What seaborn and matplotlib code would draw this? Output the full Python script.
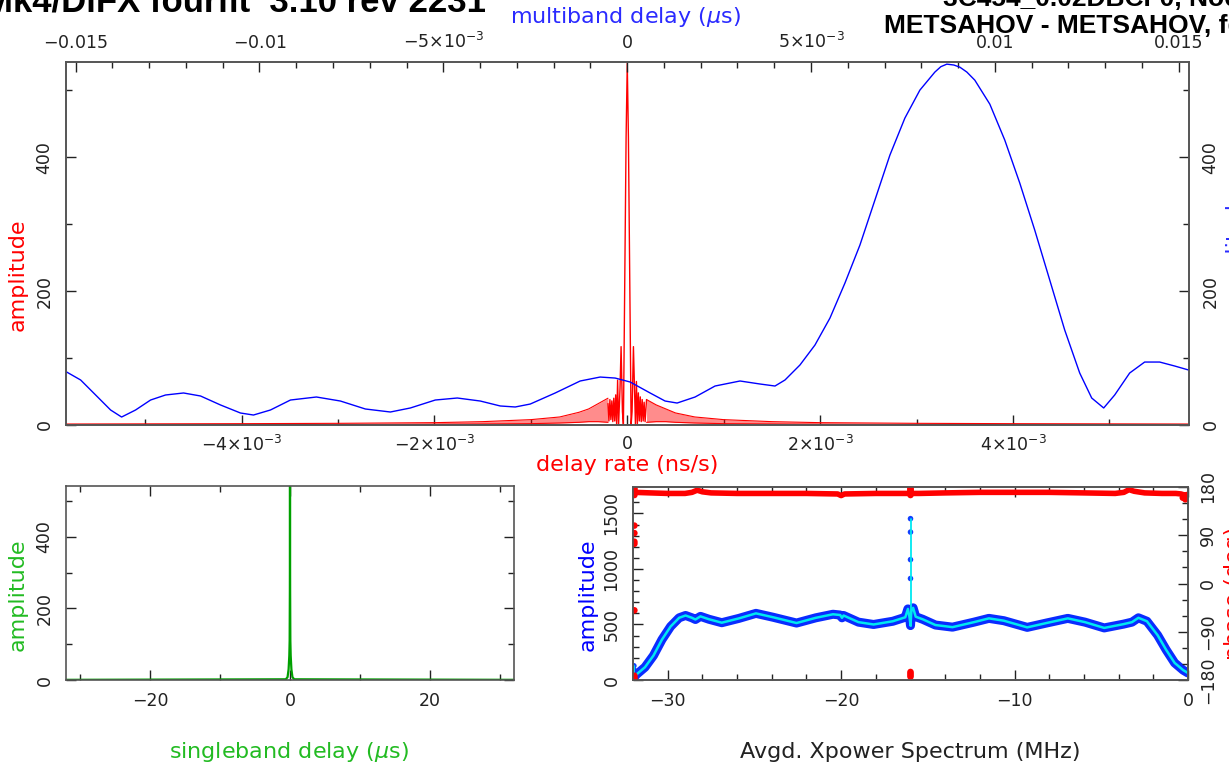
import numpy as np
import pandas as pd
import matplotlib
matplotlib.use("Agg")
import matplotlib.pyplot as plt
from matplotlib.ticker import MultipleLocator, FixedLocator, FixedFormatter, FuncFormatter
import seaborn as sns

sns.set_theme(style="ticks")
plt.rcParams['font.family'] = ['DejaVu Sans']
plt.rcParams['mathtext.fontset'] = 'dejavusans'

# ---------------- data ----------------
# Top panel, red: delay-rate function (x in ns/s)
rate_center_x = [-0.20e-3, -0.19e-3, -0.18e-3, -0.17e-3, -0.16e-3, -0.15e-3, -0.14e-3, -0.13e-3,
                 -0.12e-3, -0.11e-3, -0.10e-3, -0.09e-3, -0.075e-3, -0.064e-3, -0.05e-3, -0.04e-3,
                 -0.025e-3, -0.012e-3, 0.0, 0.012e-3, 0.025e-3, 0.04e-3, 0.05e-3, 0.064e-3,
                 0.075e-3, 0.085e-3, 0.095e-3, 0.105e-3, 0.115e-3, 0.125e-3, 0.135e-3, 0.145e-3,
                 0.155e-3, 0.165e-3, 0.175e-3, 0.185e-3, 0.20e-3]
rate_center_y = [32, 6, 38, 8, 36, 5, 40, 6, 45, 0, 67, 0, 55, 117, 20, 0,
                 230, 430, 540, 430, 230, 0, 20, 117,
                 55, 0, 65, 2, 48, 6, 42, 5,
                 38, 6, 34, 5, 38]
rate_wing_left_x = [-5.82e-3, -4.0e-3, -3.0e-3, -2.0e-3, -1.5e-3, -1.0e-3, -0.7e-3, -0.5e-3,
                    -0.4e-3, -0.3e-3, -0.2e-3]
rate_wing_left_hi = [1.5, 2, 2.5, 3.5, 5, 8, 12, 19, 24, 32, 40]
rate_wing_left_lo = [0, 0.5, 0.5, 1, 1.5, 2, 3, 4, 5, 5, 4]
rate_wing_right_x = [0.2e-3, 0.3e-3, 0.4e-3, 0.5e-3, 0.7e-3, 1.0e-3, 1.5e-3, 2.0e-3, 3.0e-3,
                     4.0e-3, 5.82e-3]
rate_wing_right_hi = [38, 30, 24, 18, 12, 8, 5, 3.5, 2.5, 2, 1.5]
rate_wing_right_lo = [4, 5, 5, 4, 3, 2, 1.5, 1, 0.5, 0.5, 0]

# Top panel, blue: multiband delay function (x in microseconds)
mbd_x = [-0.015242, -0.014862, -0.014454, -0.014047, -0.013748, -0.013368, -0.012960, -0.012553,
         -0.012063, -0.011601, -0.011058, -0.010515, -0.010162, -0.009700, -0.009156, -0.008450,
         -0.007798, -0.007119, -0.006439, -0.005896, -0.005217, -0.004619, -0.003994, -0.003451,
         -0.003043, -0.002635, -0.001956, -0.001277, -0.000734, -0.000326, 0.000082, 0.000625,
         0.001032, 0.001359, 0.001848, 0.002391, 0.003070, 0.003614, 0.004021, 0.004293,
         0.004700, 0.005108, 0.005516, 0.005923, 0.006331, 0.006738, 0.007146, 0.007553,
         0.007961, 0.008368, 0.008531, 0.008694, 0.008885, 0.009048, 0.009238, 0.009455,
         0.009863, 0.010270, 0.010678,
         0.011085, 0.011493, 0.011900, 0.012308, 0.012634, 0.012960, 0.013259, 0.013666,
         0.014074, 0.014482, 0.014889, 0.015270]
mbd_amp = [79.1, 67.2, 44.8, 22.4, 11.9, 22.4, 37.3, 44.8,
           47.8, 43.3, 29.9, 17.9, 14.9, 22.4, 37.3, 41.8,
           35.8, 23.9, 19.4, 25.4, 37.3, 40.3, 35.8, 28.4,
           26.9, 31.3, 47.8, 65.7, 71.6, 70.1, 64.2, 47.8,
           35.8, 32.8, 41.8, 58.2, 65.7, 61.2, 58.2, 67.2,
           89.6, 119.4, 159.7, 211.9, 268.7, 335.8, 403.0, 458.2,
           500.0, 526.9, 535.0, 538.8, 537.5, 534.3, 527.0, 514.9,
           479.1, 425.4, 361.2,
           291.0, 216.4, 141.8, 77.6, 40.3, 25.4, 44.8, 77.6,
           94.0, 94.0, 88.1, 82.1]

# Lower-left, green: singleband delay function (x in microseconds)
sbd_x = [-32, -0.6, -0.35, -0.2, -0.1, -0.05, -0.02, 0.0, 0.02, 0.05, 0.1, 0.2, 0.35, 0.6, 32]
sbd_amp = [0.5, 2, 8, 30, 68, 110, 250, 544, 250, 110, 68, 30, 8, 2, 0.5]

# Lower-right: averaged cross-power spectrum (MHz)
spec_freq = [-32.0, -31.8, -31.31, -30.82, -30.33, -29.83, -29.34, -28.97, -28.6, -28.4, -28.11,
             -27.62, -26.88, -25.89, -24.91, -23.92, -22.57, -21.46, -20.47, -20.05, -19.95,
             -19.86, -19.0, -18.13, -17.02, -16.5, -16.3, -16.15, -16.05, -16.0, -15.95, -15.85,
             -15.7, -15.3, -14.56, -13.58, -12.34, -11.48, -10.62, -9.27, -8.16, -6.93, -5.94,
             -4.83, -3.72, -3.23, -2.86, -2.37, -1.75, -1.26, -0.77, -0.28, 0.0]
spec_amp = [10, 50, 115, 220, 364, 482, 560, 581, 560, 545, 573,
            547, 516, 555, 600, 565, 513, 560, 592, 585, 560,
            581, 521, 500, 529, 555, 565, 640, 560, 490, 620, 650,
            570, 547, 495, 476, 521, 555, 534, 474, 513, 555, 521,
            469, 503, 521, 560, 529, 403, 272, 154, 89, 63]
spike_freq = [-16.0, -16.0, -16.0, -16.0, -16.0]
spike_amp = [1453, 1332, 1084, 914, 490]
edge_freq = [-31.95, -31.95, -31.95, -31.95]
edge_amp = [128, 90, 60, 30]

phase_freq = [-31.9, -31.0, -30.0, -29.0, -28.6, -28.3, -28.0, -27.5, -26.0, -24.0, -22.0,
              -20.2, -20.0, -19.8, -18.0, -16.5, -15.5, -14.0, -12.0, -10.0, -8.0, -6.0,
              -4.2, -3.7, -3.4, -3.1, -2.5, -1.5, -0.7, -0.4, -0.2, -0.05]
phase_deg = [170, 169, 168, 168, 170, 174, 171, 169, 168, 168, 168,
             167, 164, 167, 168, 168, 168, 169, 170, 170, 170, 169,
             168, 170, 175, 172, 169, 168, 168, 167, 165, 166]
phase_out_freq = [-31.92, -31.92, -31.92, -31.92, -31.92, -31.92, -31.92, -31.92, -31.92,
                  -31.92, -31.92, -31.92,
                  -16.0, -16.0, -16.0, -16.0, -16.0, -16.0, -16.0, -16.0, -16.0, -16.0,
                  -0.3, -0.15, -0.05]
phase_out_deg = [178, 175, 172, 165, 108, 94, 78, 74, -50, -172, -176, -179,
                 178, 176, 174, 172, 168, 165, -165, -168, -171, -174,
                 160, 157, 163]

# tick labels
rate_ticks = [-4e-3, -2e-3, 0, 2e-3, 4e-3]
rate_labels = [r"$-4{\times}10^{-3}$", r"$-2{\times}10^{-3}$", "0",
               r"$2{\times}10^{-3}$", r"$4{\times}10^{-3}$"]
mbd_ticks = [-0.015, -0.01, -0.005, 0, 0.005, 0.01, 0.015]
mbd_labels = [r"$-$0.015", r"$-$0.01", r"$-5{\times}10^{-3}$", "0",
              r"$5{\times}10^{-3}$", "0.01", "0.015"]

# ---------------- figure ----------------
W, H = 1229, 773
fig = plt.figure(figsize=(W / 100, H / 100), dpi=100)
fig.patch.set_facecolor("white")


def rect(x0, y0, x1, y1):
    return [x0 / W, 1 - y1 / H, (x1 - x0) / W, (y1 - y0) / H]


def fx(x):
    return x / W


def fy(y):
    return 1 - y / H


RED = "#ff0000"
BLUE = "#0000ff"
GREEN_LINE = "#00a000"
GREEN_TXT = "#22bb22"
CYAN = "#00e8f0"
SPINE = "#555555"
TICKFS = 12.5
LABFS = 16
minus_fmt = FuncFormatter(lambda v, p: ("\u2212%d" % abs(v)) if v < 0 else "%d" % v)


def style(ax):
    ax.set_facecolor("white")
    for s in ax.spines.values():
        s.set_color(SPINE)
        s.set_linewidth(1.2)
        s.set_visible(True)
    ax.tick_params(which="both", direction="in", colors="#222222", labelcolor="#222222",
                   labelsize=TICKFS, width=1.0)
    ax.tick_params(which="major", length=7)
    ax.tick_params(which="minor", length=4)
    ax.grid(False)


def rotate_labels(ax, left=True, right=False):
    for t in ax.yaxis.get_major_ticks():
        if left:
            t.label1.set_rotation(90)
            t.label1.set_va("center")
        if right:
            t.label2.set_rotation(90)
            t.label2.set_va("center")


# ---- top panel ----
ax1 = fig.add_axes(rect(66, 62, 1189, 425))
style(ax1)
wl = pd.DataFrame({"x": rate_wing_left_x, "hi": rate_wing_left_hi, "lo": rate_wing_left_lo})
wr = pd.DataFrame({"x": rate_wing_right_x, "hi": rate_wing_right_hi, "lo": rate_wing_right_lo})
for w in (wl, wr):
    ax1.fill_between(w["x"], w["lo"], w["hi"], color=RED, alpha=0.45, lw=0)
    sns.lineplot(data=w, x="x", y="hi", ax=ax1, color=RED, lw=0.8, legend=False,
                 estimator=None, sort=False)
    sns.lineplot(data=w, x="x", y="lo", ax=ax1, color=RED, lw=0.8, legend=False,
                 estimator=None, sort=False)
rc = pd.DataFrame({"x": rate_center_x, "y": rate_center_y})
sns.lineplot(data=rc, x="x", y="y", ax=ax1, color=RED, lw=1.0, legend=False,
             estimator=None, sort=False)
ax1.set_xlim(-5.82e-3, 5.825e-3)
ax1.set_ylim(0, 542)
ax1.xaxis.set_major_locator(FixedLocator(rate_ticks))
ax1.xaxis.set_major_formatter(FixedFormatter(rate_labels))
ax1.xaxis.set_minor_locator(MultipleLocator(1e-3))
ax1.yaxis.set_major_locator(MultipleLocator(200))
ax1.yaxis.set_minor_locator(MultipleLocator(100))
ax1.tick_params(axis="y", which="both", left=True, right=True, labelleft=True, labelright=True)
ax1.tick_params(axis="y", which="major", pad=9)
ax1.tick_params(axis="x", which="major", pad=7)
ax1.set_xlabel("")
ax1.set_ylabel("")
rotate_labels(ax1, True, True)

ax1t = ax1.twiny()
style(ax1t)
md = pd.DataFrame({"x": mbd_x, "y": mbd_amp})
sns.lineplot(data=md, x="x", y="y", ax=ax1t, color=BLUE, lw=1.0, legend=False,
             estimator=None, sort=False)
ax1t.set_xlim(-0.01526, 0.01528)
ax1t.set_ylim(0, 542)
ax1t.xaxis.set_major_locator(FixedLocator(mbd_ticks))
ax1t.xaxis.set_major_formatter(FixedFormatter(mbd_labels))
ax1t.xaxis.set_minor_locator(MultipleLocator(1e-3))
ax1t.tick_params(axis="x", which="major", pad=7)
ax1t.set_xlabel("")
ax1t.set_ylabel("")

# ---- lower-left panel ----
ax2 = fig.add_axes(rect(66, 486, 514, 680))
style(ax2)
sb = pd.DataFrame({"x": sbd_x, "y": sbd_amp})
sns.lineplot(data=sb, x="x", y="y", ax=ax2, color=GREEN_LINE, lw=1.6, legend=False,
             estimator=None, sort=False)
ax2.set_xlim(-32, 32)
ax2.set_ylim(0, 542)
ax2.xaxis.set_major_locator(MultipleLocator(20))
ax2.xaxis.set_minor_locator(MultipleLocator(10))
ax2.yaxis.set_major_locator(MultipleLocator(200))
ax2.yaxis.set_minor_locator(MultipleLocator(100))
ax2.tick_params(axis="both", which="both", top=True, right=True)
ax2.tick_params(axis="y", which="major", pad=9)
ax2.tick_params(axis="x", which="major", pad=9)
ax2.xaxis.set_major_formatter(minus_fmt)
ax2.set_xlabel("")
ax2.set_ylabel("")
rotate_labels(ax2)

# ---- lower-right panel ----
ax3 = fig.add_axes(rect(633, 487, 1188, 680))
style(ax3)
sp = pd.DataFrame({"f": spec_freq, "a": spec_amp})
sns.lineplot(data=sp, x="f", y="a", ax=ax3, color="#0a2cff", lw=6.5, legend=False,
             estimator=None, sort=False)
ax3.plot([spike_freq[0], spike_freq[0]], [min(spike_amp), max(spike_amp)], color=CYAN, lw=1.3)
ax3.plot([edge_freq[0], edge_freq[0]], [0, max(edge_amp)], color=CYAN, lw=1.3)
sns.lineplot(data=sp, x="f", y="a", ax=ax3, color=CYAN, lw=1.8, legend=False,
             estimator=None, sort=False)
sns.scatterplot(x=spike_freq + edge_freq, y=spike_amp + edge_amp, ax=ax3, color="#1040ff",
                s=16, edgecolor="none", legend=False)
ax3.set_xlim(-32, 0)
ax3.set_ylim(0, 1738)
ax3.xaxis.set_major_locator(MultipleLocator(10))
ax3.xaxis.set_minor_locator(MultipleLocator(2))
ax3.yaxis.set_major_locator(MultipleLocator(500))
ax3.yaxis.set_minor_locator(MultipleLocator(100))
ax3.tick_params(axis="x", which="both", top=True)
ax3.tick_params(axis="y", which="major", pad=9)
ax3.tick_params(axis="x", which="major", pad=9)
ax3.xaxis.set_major_formatter(minus_fmt)
ax3.set_xlabel("")
ax3.set_ylabel("")
rotate_labels(ax3)

ax3p = ax3.twinx()
style(ax3p)
ph = pd.DataFrame({"f": phase_freq, "p": phase_deg})
sns.lineplot(data=ph, x="f", y="p", ax=ax3p, color=RED, lw=4.0, legend=False,
             estimator=None, sort=False)
sns.scatterplot(x=phase_out_freq, y=phase_out_deg, ax=ax3p, color=RED, s=22,
                edgecolor="none", legend=False)
ax3p.set_ylim(-180, 180)
ax3p.yaxis.set_major_locator(MultipleLocator(90))
ax3p.yaxis.set_minor_locator(MultipleLocator(30))
ax3p.tick_params(axis="y", which="major", pad=8)
ax3p.set_xlabel("")
ax3p.set_ylabel("")
ax3p.yaxis.set_major_formatter(minus_fmt)
rotate_labels(ax3p, False, True)

# ---------------- texts ----------------
fig.text(fx(625), fy(17), r"multiband delay ($\mu$s)", color="#2a2aff", fontsize=LABFS,
         ha="center", va="center")
fig.text(fx(627), fy(465), "delay rate (ns/s)", color=RED, fontsize=LABFS,
         ha="center", va="center")
fig.text(fx(18), fy(275), "amplitude", color=RED, fontsize=LABFS, rotation=90,
         ha="center", va="center")
fig.text(fx(1235), fy(245), "amplitude", color="#2a2aff", fontsize=LABFS, rotation=90,
         ha="center", va="center")
fig.text(fx(18), fy(595), "amplitude", color=GREEN_TXT, fontsize=LABFS, rotation=90,
         ha="center", va="center")
fig.text(fx(289), fy(752), r"singleband delay ($\mu$s)", color=GREEN_TXT, fontsize=LABFS,
         ha="center", va="center")
fig.text(fx(588), fy(595), "amplitude", color=BLUE, fontsize=LABFS, rotation=90,
         ha="center", va="center")
fig.text(fx(910), fy(752), "Avgd. Xpower Spectrum (MHz)", color="#222222", fontsize=LABFS,
         ha="center", va="center")
fig.text(fx(1234), fy(593), "phase (deg)", color=RED, fontsize=LABFS, rotation=90,
         ha="center", va="center")

fig.text(fx(-16), fy(12), "Mk4/DiFX fourfit  3.10 rev 2231", fontsize=25, fontweight="bold",
         family="Liberation Sans", ha="left", va="baseline", color="black")
fig.text(fx(943), fy(6), "3C454_0.02DBCF0, No0007", fontsize=19, fontweight="bold",
         family="Liberation Sans", ha="left", va="baseline", color="black")
fig.text(fx(884), fy(33), "METSAHOV - METSAHOV, fgroup X, pol RR", fontsize=19,
         fontweight="bold", family="Liberation Sans", ha="left", va="baseline", color="black")

fig.savefig("out.png", dpi=100)
